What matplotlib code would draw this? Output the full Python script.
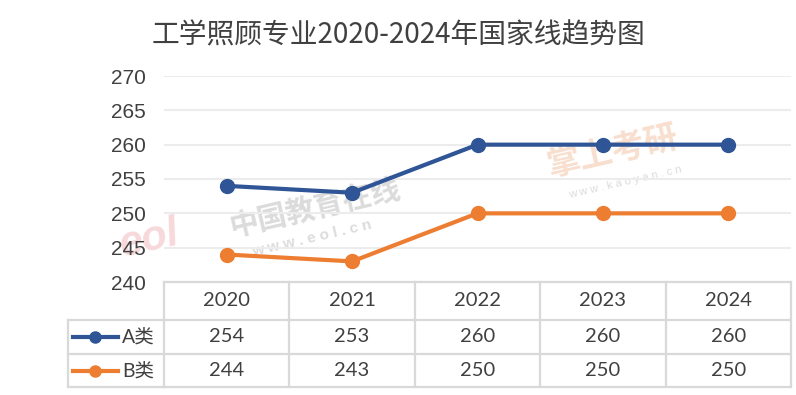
import matplotlib
matplotlib.use("Agg")
import matplotlib.pyplot as plt
import matplotlib.transforms as mtransforms
from matplotlib.lines import Line2D

# data
years = ["2020", "2021", "2022", "2023", "2024"]
a_scores = [254, 253, 260, 260, 260]
b_scores = [244, 243, 250, 250, 250]
series_names = ["A类", "B类"]
title = "工学照顾专业2020-2024年国家线趋势图"

blue = "#2f5597"
orange = "#ed7d31"
text_col = "#404040"
grid_col = "#d9d9d9"

W, H = 796, 395
plt.rcParams["font.family"] = ["Noto Sans CJK SC", "DejaVu Sans"]

fig = plt.figure(figsize=(W / 100, H / 100), dpi=100)


def fy(py):
    # pixel row from top -> figure fraction
    return 1 - py / H


ax = fig.add_axes([164 / W, fy(282), (791 - 164) / W, (282 - 76) / H])
ax.patch.set_alpha(0)
ax.set_xlim(-0.5, len(years) - 0.5)
ax.set_ylim(240, 270)
ax.set_yticks(range(240, 271, 5))
ax.set_xticks([])
for s in ax.spines.values():
    s.set_visible(False)
ax.grid(axis="y", color="#ececec", linewidth=1.5)
ax.set_axisbelow(True)
ax.tick_params(axis="y", length=0, pad=13, labelsize=15, labelcolor=text_col)
for lab in ax.get_yticklabels():
    lab.set_family("Liberation Sans")

# faint watermarks, kept below the lines
wm = dict(zorder=-1, ha="center", va="center", rotation=13)
fig.text(315 / W, fy(207), "中国教育在线", fontsize=21, color="#c4c4c4", alpha=0.6,
         fontweight="bold", **wm)
fig.text(312 / W, fy(238), "w w w . e o l . c n", fontsize=11, color="#c4c4c4", alpha=0.6,
         family="Liberation Sans", fontweight="bold", **wm)
fig.text(612 / W, fy(152), "掌上考研", fontsize=24, color="#f4c9ad", alpha=0.6,
         fontweight="bold", **wm)
fig.text(625 / W, fy(182), "w w w . k a o y a n . c n", fontsize=8, color="#cccccc",
         alpha=0.7, family="Liberation Sans", **wm)
fig.text(150 / W, fy(240), "eol", fontsize=30, color="#f2b8bd", alpha=0.55,
         fontweight="bold", family="Liberation Sans", fontstyle="italic", **wm)

x = list(range(len(years)))
ax.plot(x, a_scores, color=blue, linewidth=3, marker="o", markersize=10, zorder=3)
ax.plot(x, b_scores, color=orange, linewidth=3, marker="o", markersize=10, zorder=3)

fig.text(0.5, fy(35), title, fontsize=20, color=text_col, ha="center", va="center")

# data table under the axes
tr = mtransforms.blended_transform_factory(ax.transData, fig.transFigure)
rows = [282, 320, 354, 387]
x_edges = [i - 0.5 for i in range(len(years) + 1)]
lw = 1.6

for k, ry in enumerate(rows):
    fig.add_artist(Line2D([x_edges[0], x_edges[-1]], [fy(ry), fy(ry)], transform=tr,
                          color=grid_col, linewidth=lw))
    if k >= 1:
        fig.add_artist(Line2D([68 / W, 164 / W], [fy(ry), fy(ry)], color=grid_col,
                              linewidth=lw))
for xe in x_edges:
    fig.add_artist(Line2D([xe, xe], [fy(rows[0]), fy(rows[-1])], transform=tr,
                          color=grid_col, linewidth=lw))
fig.add_artist(Line2D([68 / W, 68 / W], [fy(rows[1]), fy(rows[-1])], color=grid_col,
                      linewidth=lw))

for i, yr in enumerate(years):
    fig.text(i, fy((rows[0] + rows[1]) / 2), yr, transform=tr, ha="center", va="center",
             fontsize=14.5, color=text_col, family="Lato")

for r, (vals, col, name) in enumerate(zip([a_scores, b_scores], [blue, orange], series_names)):
    cy = fy((rows[r + 1] + rows[r + 2]) / 2)
    for i, v in enumerate(vals):
        fig.text(i, cy, str(v), transform=tr, ha="center", va="center",
                 fontsize=14.5, color=text_col, family="Lato")
    fig.add_artist(Line2D([73 / W, 118 / W], [cy, cy], color=col, linewidth=3))
    fig.add_artist(Line2D([95 / W], [cy], color=col, marker="o", markersize=8))
    fig.text(122 / W, cy, name, ha="left", va="center", fontsize=14, color=text_col,
             family=["Lato", "Noto Sans CJK SC"])

fig.savefig("out.png", dpi=100, facecolor="white")
